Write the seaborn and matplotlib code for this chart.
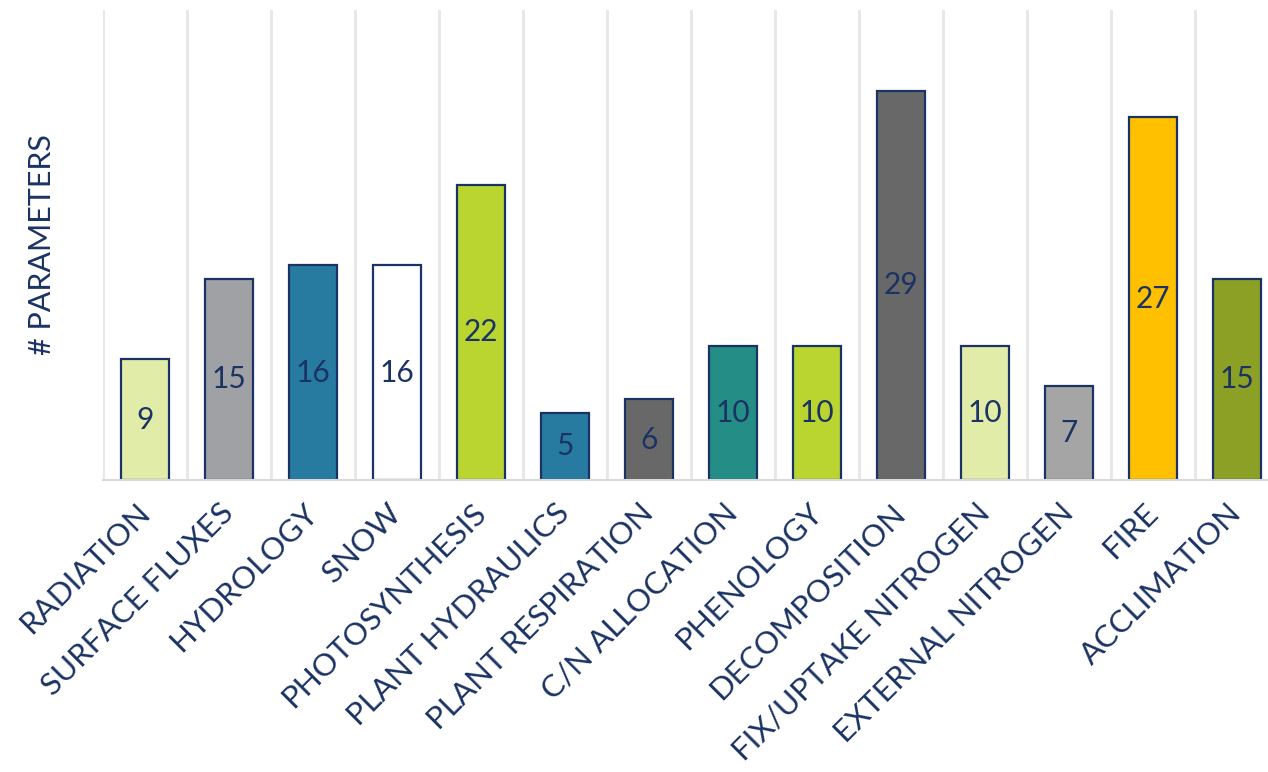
import matplotlib
matplotlib.use("Agg")
import matplotlib.pyplot as plt
import seaborn as sns
import numpy as np

categories = ["RADIATION", "SURFACE FLUXES", "HYDROLOGY", "SNOW", "PHOTOSYNTHESIS",
              "PLANT HYDRAULICS", "PLANT RESPIRATION", "C/N ALLOCATION", "PHENOLOGY",
              "DECOMPOSITION", "FIX/UPTAKE NITROGEN", "EXTERNAL NITROGEN", "FIRE",
              "ACCLIMATION"]
n_params = [9, 15, 16, 16, 22, 5, 6, 10, 10, 29, 10, 7, 27, 15]
bar_colors = ["#E2ECA9", "#A0A1A4", "#287BA0", "#FFFFFF", "#BAD530", "#287BA0", "#686868",
              "#248E86", "#BAD530", "#686868", "#E2ECA9", "#A5A5A5", "#FFC000", "#8BA024"]

navy = "#1B3363"

sns.set_theme(style="white")
plt.rcParams["font.family"] = ["Lato", "DejaVu Sans"]

fig = plt.figure(figsize=(12.68, 7.72), dpi=100)
ax = fig.add_axes([103 / 1268, 292 / 772, 1176 / 1268, 470 / 772])

sns.barplot(x=categories, y=n_params, hue=categories, palette=bar_colors,
            legend=False, width=0.57, edgecolor=navy, linewidth=1.6,
            saturation=1, ax=ax)

ax.set_ylim(0, 35)
ax.set_xlim(-0.5, len(categories) - 0.5)

# vertical separators between categories
for b in np.arange(-0.5, len(categories), 1.0):
    ax.axvline(b, color="#E6E6E6", lw=2, zorder=0)

for s in ["top", "right", "left"]:
    ax.spines[s].set_visible(False)
ax.spines["bottom"].set_color("#D9D9D9")
ax.spines["bottom"].set_linewidth(1.5)

ax.set_yticks([])
ax.tick_params(axis="x", length=0)
ax.set_xticks(range(len(categories)))
ax.set_xticklabels(categories, rotation=45, ha="right", va="center",
                   rotation_mode="anchor", fontsize=22.5, color=navy)
for lbl in ax.get_xticklabels():
    lbl.set_y(-0.05)

ax.set_ylabel("# PARAMETERS", fontsize=22, color=navy, labelpad=34)

for i, v in enumerate(n_params):
    ax.text(i, v / 2, str(v), ha="center", va="center", fontsize=21.5, color=navy)

fig.savefig("out.png", dpi=100)
